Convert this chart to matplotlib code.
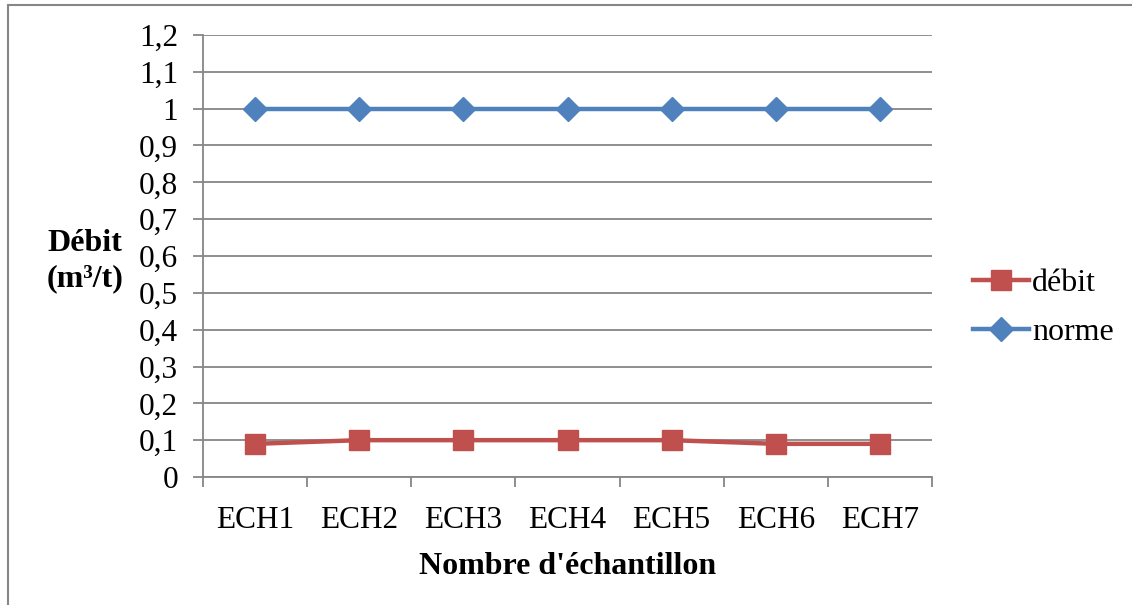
import matplotlib
matplotlib.use('Agg')
from matplotlib import pyplot as plt
from matplotlib.patches import Rectangle
import numpy as np

# Series data
samples = ['ECH1', 'ECH2', 'ECH3', 'ECH4', 'ECH5', 'ECH6', 'ECH7']
debit = [0.09, 0.1, 0.1, 0.1, 0.1, 0.09, 0.09]
norme = [1, 1, 1, 1, 1, 1, 1]
y_ticks = [0, 0.1, 0.2, 0.3, 0.4, 0.5, 0.6, 0.7, 0.8, 0.9, 1.0, 1.1, 1.2]

RED = '#C0504D'
BLUE = '#4F81BD'
GRID = '#868686'

plt.rcParams['font.family'] = ['Liberation Serif', 'DejaVu Serif']
plt.rcParams['font.size'] = 22.5

fig = plt.figure(figsize=(11.32, 6.05), dpi=100)
ax = fig.add_axes([203 / 1132, 1 - 477 / 605, 729 / 1132, 442 / 605])

x = np.arange(len(samples))
ax.plot(x, debit, color=RED, lw=3.2, marker='s', markersize=14,
        markeredgecolor=RED, label='débit', zorder=3)
ax.plot(x, norme, color=BLUE, lw=3.2, marker='D', markersize=12.5,
        markeredgecolor=BLUE, label='norme', zorder=3)

ax.set_xlim(-0.5, len(samples) - 0.5)
ax.set_ylim(0, 1.2)

# horizontal gridlines, category ticks between samples
ax.set_yticks(y_ticks)
ax.set_yticklabels([f'{v:g}'.replace('.', ',') for v in y_ticks])
ax.yaxis.grid(True, color=GRID, lw=1.3)
ax.set_axisbelow(True)
ax.set_xticks(x)
ax.set_xticklabels(samples)
ax.set_xticks(np.arange(len(samples) + 1) - 0.5, minor=True)
ax.tick_params(axis='x', which='major', length=0, pad=21)
ax.tick_params(axis='x', which='minor', length=7, width=1.3, color=GRID)
ax.tick_params(axis='y', length=7, width=1.3, color=GRID, pad=11)

for side in ('top', 'right'):
    ax.spines[side].set_visible(False)
for side in ('left', 'bottom'):
    ax.spines[side].set_color(GRID)
    ax.spines[side].set_linewidth(1.3)

ax.set_xlabel("Nombre d'échantillon", fontweight='bold', fontsize=23,
              labelpad=12)
fig.text(85 / 1132, 1 - 261 / 605, 'Débit\n(m³/t)', fontweight='bold',
         fontsize=23, ha='center', va='center', linespacing=1.25)

fig.legend(loc='center left', bbox_to_anchor=(957 / 1132, 1 - 308 / 605),
           frameon=False, handlelength=1.75, handletextpad=0.1,
           labelspacing=0.6, borderpad=0, fontsize=23)

# outer chart frame
fig.patches.append(Rectangle((8 / 1132, -0.1), 1.2, 1 + 0.1 - 4.5 / 605,
                             transform=fig.transFigure, fill=False,
                             edgecolor=GRID, lw=1.5))

fig.savefig('out.png', dpi=100)
